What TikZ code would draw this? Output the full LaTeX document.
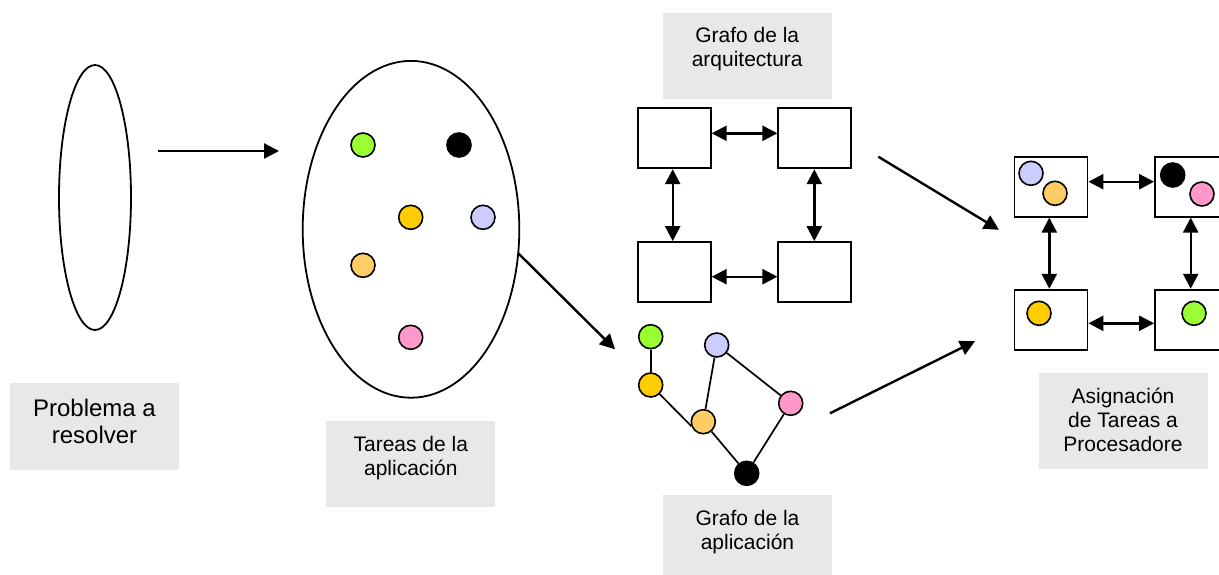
\documentclass[tikz,border=0pt]{standalone}
\usepackage{fontspec}
\setmainfont{Liberation Sans}
\usetikzlibrary{arrows.meta,shapes.geometric}
\definecolor{cgreen}{HTML}{99FF33}
\definecolor{cyellow}{HTML}{FFCC00}
\definecolor{clav}{HTML}{CCCCFF}
\definecolor{corange}{HTML}{FFCC66}
\definecolor{cpink}{HTML}{FF99CC}
\definecolor{cgray}{HTML}{E8E8E8}
\begin{document}
\begin{tikzpicture}[x=1pt,y=-1pt,
  dot/.style={circle,draw=black,line width=1.6pt,minimum size=24pt,inner sep=0pt},
  proc/.style={rectangle,draw=black,line width=1.8pt,fill=white,minimum width=73pt,minimum height=60pt,inner sep=0pt},
  graybox/.style={rectangle,fill=cgray,inner sep=0pt},
  lbl/.style={anchor=north,align=center,inner sep=0pt,font=\fontsize{21}{24}\selectfont},
  arr/.style={line width=2.4pt,-{Triangle[length=15pt,width=15pt]}},
  darr/.style={line width=2.4pt,{Triangle[length=15pt,width=15pt]}-{Triangle[length=15pt,width=15pt]}},
  gedge/.style={line width=1.7pt}]
\useasboundingbox (0,0) rectangle (1219,574);
\clip (0,0) rectangle (1219,574);

% problem ellipse
\node[ellipse,draw,line width=1.8pt,minimum width=72pt,minimum height=265pt,inner sep=0pt] (prob) at (95,197.5) {};
\coordinate (a1s) at (158,151);
\coordinate (a1e) at (279,151);
\draw[arr] (a1s) -- (a1e);
\node[graybox,minimum width=169pt,minimum height=87pt] (probbox) at (94.5,426.5) {};
\node[lbl,font=\fontsize{24}{27}\selectfont] (probtxt) at (94.5,398.5) {Problema a\\resolver};

% tasks ellipse
\node[ellipse,draw,line width=1.8pt,minimum width=216.6pt,minimum height=336.8pt,inner sep=0pt] (tasks) at (411,229.3) {};
\node[dot,fill=cgreen] (t1) at (363,145) {};
\node[dot,fill=black] (t2) at (459,145) {};
\node[dot,fill=cyellow] (t3) at (410.7,217.3) {};
\node[dot,fill=clav] (t4) at (483,217.3) {};
\node[dot,fill=corange] (t5) at (363,265.3) {};
\node[dot,fill=cpink] (t6) at (410.7,337.3) {};
\node[graybox,minimum width=169pt,minimum height=86pt] (taskbox) at (410.5,464) {};
\node[lbl] (tasktxt) at (410.8,435.7) {Tareas de la\\aplicación};

\coordinate (a2s) at (518.3,253.3);
\coordinate (a2e) at (615,349.3);
\draw[arr] (a2s) -- (a2e);

% architecture graph
\node[graybox,minimum width=169pt,minimum height=86pt] (archbox) at (747.2,56.3) {};
\node[lbl] (archtxt) at (747.2,27.5) {Grafo de la\\arquitectura};
\node[proc] (p1) at (674.3,138.3) {};
\node[proc] (p2) at (814.8,138.3) {};
\node[proc] (p3) at (674.3,272) {};
\node[proc] (p4) at (814.8,272) {};
\draw[darr] (p1.east |- 0,133.3) -- (p2.west |- 0,133.3);
\draw[darr] (p3.east |- 0,276.7) -- (p4.west |- 0,276.7);
\draw[darr] (p1.south -| 672.7,0) -- (p3.north -| 672.7,0);
\draw[darr] (p2.south -| 814.3,0) -- (p4.north -| 814.3,0);

\coordinate (a3s) at (878.3,156.7);
\coordinate (a3e) at (999,229.8);
\draw[arr] (a3s) -- (a3e);

% application graph
\node[dot,fill=cgreen] (g1) at (650.7,336.7) {};
\node[dot,fill=cyellow] (g2) at (650.7,385) {};
\node[dot,fill=clav] (g3) at (716.7,345) {};
\node[dot,fill=corange] (g4) at (703.3,421.7) {};
\node[dot,fill=cpink] (g5) at (790.7,403.3) {};
\node[dot,fill=black] (g6) at (746.7,473.3) {};
\draw[gedge] (g1) -- (g2);
\draw[gedge] (g2) -- (g4.200);
\draw[gedge] (g3) -- (g4);
\draw[gedge] (g3) -- (g5);
\draw[gedge] (g4) -- (g6);
\draw[gedge] (g5) -- (g6);
\node[graybox,minimum width=169pt,minimum height=80pt] (appbox) at (747.5,535) {};
\node[lbl] (apptxt) at (747.5,510) {Grafo de la\\aplicación};

\coordinate (a4s) at (830,413.3);
\coordinate (a4e) at (975,341.2);
\draw[arr] (a4s) -- (a4e);

% assignment
\node[proc] (q1) at (1051,186.7) {};
\node[proc] (q2) at (1191.5,186.7) {};
\node[proc] (q3) at (1051,319.7) {};
\node[proc] (q4) at (1191.5,319.7) {};
\draw[darr] (q1.east |- 0,181.7) -- (q2.west |- 0,181.7);
\draw[darr] (q3.east |- 0,323.3) -- (q4.west |- 0,323.3);
\draw[darr] (q1.south -| 1049.3,0) -- (q3.north -| 1049.3,0);
\draw[darr] (q2.south -| 1190.7,0) -- (q4.north -| 1190.7,0);
\node[dot,fill=clav] (d1) at (1031,173.3) {};
\node[dot,fill=corange] (d2) at (1055,193.3) {};
\node[dot,fill=black] (d3) at (1172.7,175) {};
\node[dot,fill=cpink] (d4) at (1202,194) {};
\node[dot,fill=cyellow] (d5) at (1039,313.3) {};
\node[dot,fill=cgreen] (d6) at (1194,313.3) {};
\node[graybox,minimum width=169pt,minimum height=96pt] (asgbox) at (1123.5,421.3) {};
\node[lbl] (asgtxt) at (1123,387.8) {Asignación\\de Tareas a\\Procesadore};
\end{tikzpicture}
\end{document}
